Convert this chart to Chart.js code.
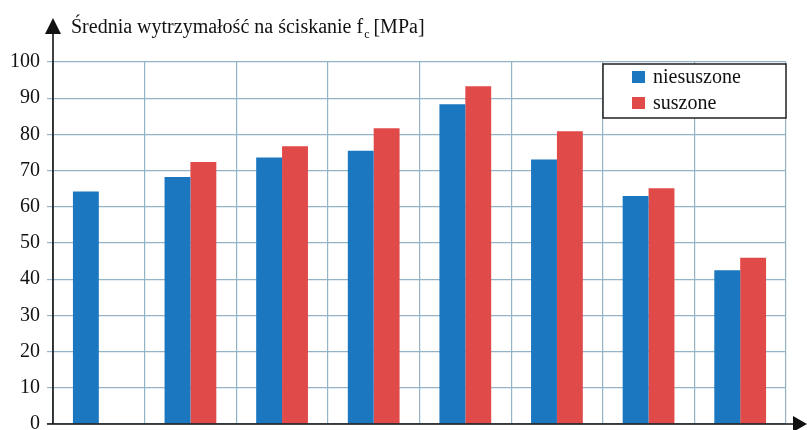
<!DOCTYPE html>
<html>
<head>
<meta charset="utf-8">
<script src="https://cdn.jsdelivr.net/npm/chart.js@4"></script>
<style>
  html, body { margin: 0; padding: 0; background: #fff; }
  #wrap { width: 807px; height: 430px; }
</style>
</head>
<body>
<div id="wrap"><canvas id="barChart"></canvas></div>
<script>
const categories = ['1', '2', '3', '4', '5', '6', '7', '8'];
const niesuszone = [64.2, 68.2, 73.6, 75.5, 88.3, 73.1, 63.0, 42.5];
const suszone = [null, 72.4, 76.7, 81.7, 93.3, 80.9, 65.1, 45.9];
const yTicks = [0, 10, 20, 30, 40, 50, 60, 70, 80, 90, 100];

const serif = '"Liberation Serif", "DejaVu Serif", serif';
const gridColor = '#93b4c7';

// axis arrows, y title and the boxed legend
const decorations = {
    id: 'decorations',
    afterDraw(chart) {
        const ctx = chart.ctx;
        const a = chart.chartArea;
        ctx.save();
        ctx.strokeStyle = '#111';
        ctx.fillStyle = '#111';
        ctx.lineWidth = 1.6;

        // y axis with arrow
        ctx.beginPath();
        ctx.moveTo(a.left, a.bottom);
        ctx.lineTo(a.left, 30);
        ctx.stroke();
        ctx.beginPath();
        ctx.moveTo(a.left, 18);
        ctx.lineTo(a.left - 8, 34);
        ctx.lineTo(a.left + 8, 34);
        ctx.closePath();
        ctx.fill();

        // x axis with arrow
        ctx.beginPath();
        ctx.moveTo(a.left - 6, a.bottom);
        ctx.lineTo(795, a.bottom);
        ctx.stroke();
        ctx.beginPath();
        ctx.moveTo(807, a.bottom);
        ctx.lineTo(793, a.bottom - 8);
        ctx.lineTo(793, a.bottom + 8);
        ctx.closePath();
        ctx.fill();

        // title
        ctx.font = '20px ' + serif;
        ctx.textBaseline = 'alphabetic';
        ctx.textAlign = 'left';
        let x = 71;
        const t1 = 'Średnia wytrzymałość na ściskanie f';
        ctx.fillText(t1, x, 33);
        x += ctx.measureText(t1).width + 1;
        ctx.font = '12px ' + serif;
        ctx.fillText('c', x, 38);
        x += ctx.measureText('c').width + 4;
        ctx.font = '20px ' + serif;
        ctx.fillText('[MPa]', x, 33);

        // legend box
        const bx = 603, by = 64, bw = 183, bh = 54;
        ctx.fillStyle = '#fff';
        ctx.fillRect(bx, by, bw, bh);
        ctx.lineWidth = 1.5;
        ctx.strokeStyle = '#222';
        ctx.strokeRect(bx, by, bw, bh);
        chart.data.datasets.forEach((ds, i) => {
            const cy = 77 + i * 26;
            ctx.fillStyle = ds.backgroundColor;
            ctx.fillRect(632, cy - 6, 13, 12);
            ctx.fillStyle = '#111';
            ctx.font = '20px ' + serif;
            ctx.textBaseline = 'middle';
            ctx.fillText(ds.label, 653, cy + 1);
        });
        ctx.restore();
    }
};

const ctx = document.getElementById('barChart').getContext('2d');
const barChart = new Chart(ctx, {
    type: 'bar',
    data: {
        labels: categories,
        datasets: [{
            label: 'niesuszone',
            data: niesuszone,
            backgroundColor: '#1b77c0',
            categoryPercentage: 0.565,
            barPercentage: 1.0
        }, {
            label: 'suszone',
            data: suszone,
            backgroundColor: '#e04a48',
            categoryPercentage: 0.565,
            barPercentage: 1.0
        }]
    },
    options: {
        responsive: true,
        maintainAspectRatio: false,
        animation: false,
        layout: {
            padding: { left: 0, top: 62, right: 21, bottom: 6 }
        },
        plugins: {
            legend: { display: false },
            tooltip: { enabled: false }
        },
        scales: {
            x: {
                afterFit: (scale) => { scale.height = 0; },
                grid: {
                    color: gridColor,
                    lineWidth: 1.2,
                    offset: true,
                    drawTicks: false
                },
                border: { display: false },
                ticks: { display: false }
            },
            y: {
                min: 0,
                max: 100,
                afterBuildTicks: (scale) => {
                    scale.ticks = yTicks.map(v => ({ value: v }));
                },
                afterFit: (scale) => {
                    scale.width = 53;
                    scale.paddingTop = 0;
                    scale.paddingBottom = 0;
                },
                grid: {
                    color: gridColor,
                    lineWidth: 1.2,
                    tickLength: 6
                },
                border: { display: false },
                ticks: {
                    color: '#111',
                    padding: 7,
                    font: { family: serif, size: 20 }
                }
            }
        }
    },
    plugins: [decorations]
});
</script>
</body>
</html>
